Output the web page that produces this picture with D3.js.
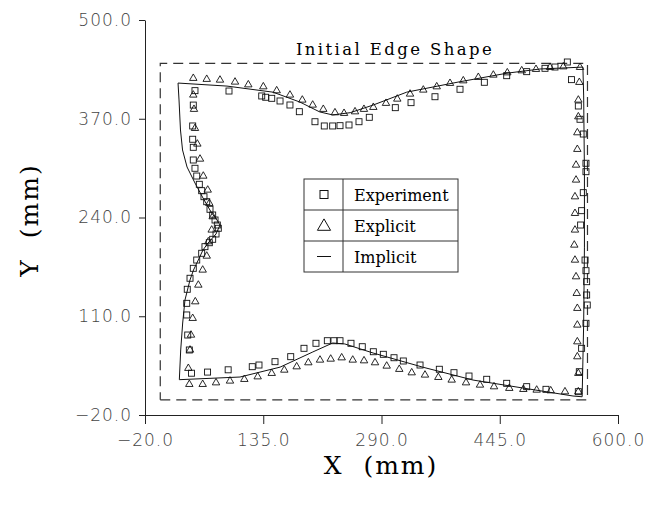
<!DOCTYPE html>
<html>
<head>
<meta charset="utf-8">
<script src="https://cdn.jsdelivr.net/npm/d3@7"></script>
<style>
  body { margin: 0; background: #fff; }
  svg { display: block; }
</style>
</head>
<body>
<div id="chart"></div>
<script>
// axis ticks
const xTicks = [-20, 135, 290, 445, 600];
const yTicks = [-20, 110, 240, 370, 500];

// initial edge shape (dashed)
const initX = [0, 560, 560, 0, 0];
const initY = [0, 0, 443, 443, 0];

// Experiment (squares)
const expX = [45.5, 43.3, 42.5, 42.5, 43.3, 43.3, 45.5, 47.8, 51.2, 54.3, 57.3, 60.9, 65.2, 68.7, 71.8, 74.8, 76.1, 73.1, 68.7, 64.3, 58.6, 54.3, 47.8, 43.3, 39, 35.4, 34.7, 34.7, 36, 38.1,
  41, 62, 89, 120.6, 129.4, 150.4, 171, 188.4, 204.1, 219, 227.7, 235.6, 250, 264.8, 279.3, 292.4, 306.4, 318.6, 340.5, 365.8, 385, 404.7, 427.9, 454.1, 480.3, 505.6, 548,
  549.3, 552.3, 558, 559.7, 558.9, 558.9, 558, 556.8, 551, 552.3, 554.5, 558, 558, 554.5, 550.2, 548, 539,
  533.6, 517.4, 504.3, 480.3, 454.1, 424.8, 392.9, 360.1, 328.7, 308.1, 274, 260.5, 247.4, 235.6, 226, 215, 202.8, 182.3, 170, 157, 146.1, 138.2, 133, 90.1];
const expY = [407, 388, 360.5, 343, 332.4, 315.7, 304.8, 294.6, 283.7, 275.3, 267.4, 260.8, 250.8, 243.3, 236.7, 230.1, 225.8, 218.3, 211.3, 206.8, 201.6, 192.9, 184, 173.1, 160, 145.5, 127, 111.7, 85.3, 65.6,
  35, 36.5, 39.5, 43.6, 45.8, 50.2, 56.8, 67.8, 74.4, 77.8, 77.8, 77.8, 74.4, 69.9, 63.3, 59.9, 55.4, 51.1, 45.8, 40.2, 35.7, 31.3, 27, 21.7, 17.3, 13.8, 10.7,
  37, 67.8, 100.7, 124.8, 138, 155.5, 170, 184, 230.1, 249, 272.7, 300.3, 311.4, 349.9, 369.3, 386.8, 421.5,
  444.7, 438.1, 436.4, 432, 426.7, 418, 408.8, 399, 391.2, 384.6, 371.9, 366.1, 361.8, 360.9, 360.5, 360.5, 366.1, 379.3, 388.1, 393.4, 396.9, 398.3, 400, 406.5];

// Explicit (triangles)
const explX = [43.3, 60.9, 78.3, 98, 115.4, 135.1, 152.6, 170, 186.2, 199.8, 213.7, 229, 240.9, 255.3, 267, 279.3, 295.9, 310.7, 327.4, 344.8, 362.4, 379.8, 397.2, 416.9, 436.6, 454.9, 473.8, 492.5, 510.9, 528.3, 550.2,
  549.3, 548, 548, 546.7, 546.7, 545, 545, 543.6, 543.6, 543.6, 542.7, 543.6, 545, 545.9, 546.7, 546.7, 546.7, 546.7, 548, 548,
  530.5, 511.8, 493.4, 475.9, 457.5, 437.5, 419.1, 400.8, 382, 364.5, 347, 329.6, 313.3, 296.8, 281.5, 267.1, 252.3, 237.8, 223.4, 209.4, 194.1, 178.8, 162.6, 146.1, 127.7, 110.2, 91.4, 73.1, 55.6, 38.1,
  36.8, 39, 40.3, 42.5, 45.9, 49.9, 55.6, 60.9, 63, 67.4, 68.7, 64.3, 62.2, 56.4, 52.1, 48.6, 45.5, 44.2, 43.3];
const explY = [423.3, 422, 421, 418.4, 414.8, 412.2, 407, 401.3, 394.7, 388.1, 382.5, 378, 377.2, 379.3, 382.5, 385.1, 390.4, 396, 402.6, 407.9, 412.2, 416.7, 420.1, 424.6, 427.6, 430.6, 433.3, 435.1, 437.7, 438.5, 437.7,
  418, 394.7, 372.7, 351.7, 329.8, 309.1, 289.4, 267.4, 245.5, 223.6, 203.8, 184, 162.1, 140.2, 120.5, 98.5, 76.5, 56.8, 34.9, 10.7,
  10.7, 12, 12.9, 13.8, 15.2, 17.3, 19.5, 22.5, 26.1, 29.6, 32.7, 35.7, 40.2, 44.5, 48.9, 51.5, 52.4, 55.4, 53.7, 52.4, 48.9, 43.6, 39.2, 34.9, 30.4, 27, 24.8, 22.5, 20.4, 20.4,
  41.5, 65.6, 85.3, 107.3, 129.2, 151.1, 170.9, 189.3, 208.2, 223.6, 241.1, 258.7, 276.2, 294.6, 317, 336.8, 357.4, 382.5, 401.3];

// Implicit (solid line, closed outline)
const implX = [23.3, 87.5, 147.8, 183, 209, 226, 249, 279, 323, 389, 454.5, 498, 554,
  555, 556, 556, 555, 553,
  541, 475.5, 410, 344, 279, 242, 226, 200, 157, 104.5, 25,
  26.8, 29.4, 32.4, 39, 43.6, 49.9, 56, 62.6, 73.1, 78.3, 74.4, 67.4, 56, 45.5, 35.1, 29.2, 26.5, 24.6, 23.3];
const implY = [417, 413, 405, 392, 379, 375, 378, 388, 405, 418, 430, 435.5, 438,
  400, 300, 200, 100, 4,
  5, 15.5, 26, 43, 61.6, 73.5, 74.8, 63, 43, 30, 26.5,
  65.6, 101.1, 131.4, 157.8, 170.9, 184.1, 197.2, 206.4, 218.3, 230.1, 236.7, 245.9, 265.7, 285.4, 306.5, 328.9, 355.2, 394.7, 417];

const legendLabels = ["Experiment", "Explicit", "Implicit"];

const width = 657, height = 508;

const svg = d3.select("#chart")
  .append("svg")
    .attr("width", width)
    .attr("height", height);

const x = d3.scaleLinear().domain([-20, 600]).range([145, 618]);
const y = d3.scaleLinear().domain([-20, 500]).range([415, 20]);

const fmt = d3.format(".1f");

// axes
const xAxis = svg.append("g")
    .attr("transform", "translate(0,415)")
    .call(d3.axisBottom(x).tickValues(xTicks).tickFormat(fmt).tickSize(9).tickSizeOuter(0).tickPadding(10));
const yAxis = svg.append("g")
    .attr("transform", "translate(145,0)")
    .call(d3.axisLeft(y).tickValues(yTicks).tickFormat(fmt).tickSize(6).tickSizeOuter(0).tickPadding(7));

[xAxis, yAxis].forEach(g => {
  g.select(".domain").attr("stroke", "#222").attr("stroke-width", 1);
  g.selectAll(".tick line").attr("stroke", "#222");
  g.selectAll(".tick text")
    .attr("fill", "#444")
    .style("font-family", "'DejaVu Sans', sans-serif")
    .style("font-size", "17px")
    .style("font-weight", 300)
    .style("letter-spacing", "1px");
});

// axis titles
svg.append("text")
    .attr("x", 381).attr("y", 474)
    .attr("text-anchor", "middle")
    .style("font-family", "'DejaVu Serif', serif")
    .style("font-size", "25px")
    .style("letter-spacing", "2px")
    .style("white-space", "pre")
    .text("X  (mm)");
svg.append("text")
    .attr("transform", "translate(38,220) rotate(-90)")
    .attr("text-anchor", "middle")
    .style("font-family", "'DejaVu Serif', serif")
    .style("font-size", "25px")
    .style("letter-spacing", "2px")
    .style("white-space", "pre")
    .text("Y  (mm)");

// title
svg.append("text")
    .attr("x", 395).attr("y", 55)
    .attr("text-anchor", "middle")
    .style("font-family", "'DejaVu Serif', serif")
    .style("font-size", "16.5px")
    .style("letter-spacing", "2.4px")
    .style("white-space", "pre")
    .text("Initial Edge Shape");

// initial shape dashed
const initPts = initX.map((d, i) => [d, initY[i]]);
svg.append("path")
    .datum(initPts)
    .attr("fill", "none")
    .attr("stroke", "#333")
    .attr("stroke-width", 1.2)
    .attr("stroke-dasharray", "10,6")
    .attr("d", d3.line().x(d => x(d[0])).y(d => y(d[1])));

// implicit line
const implPts = implX.map((d, i) => [d, implY[i]]);
svg.append("path")
    .datum(implPts)
    .attr("fill", "none")
    .attr("stroke", "#111")
    .attr("stroke-width", 1)
    .attr("d", d3.line().x(d => x(d[0])).y(d => y(d[1])));

// experiment squares
const expPts = expX.map((d, i) => [d, expY[i]]);
svg.append("g").selectAll("rect")
    .data(expPts)
    .join("rect")
      .attr("x", d => x(d[0]) - 3)
      .attr("y", d => y(d[1]) - 3)
      .attr("width", 6)
      .attr("height", 6)
      .attr("fill", "none")
      .attr("stroke", "#111")
      .attr("stroke-width", 0.9);

// explicit triangles
const tri = d3.symbol().type(d3.symbolTriangle).size(24);
const explPts = explX.map((d, i) => [d, explY[i]]);
svg.append("g").selectAll("path")
    .data(explPts)
    .join("path")
      .attr("transform", d => `translate(${x(d[0])},${y(d[1])})`)
      .attr("d", tri)
      .attr("fill", "none")
      .attr("stroke", "#111")
      .attr("stroke-width", 0.9);

// legend
const lg = svg.append("g");
const lx0 = 304, lx1 = 343, lx2 = 458, ly0 = 179, rowH = 31;
lg.append("rect")
    .attr("x", lx0).attr("y", ly0)
    .attr("width", lx2 - lx0).attr("height", rowH * 3)
    .attr("fill", "#fff")
    .attr("stroke", "#333");
lg.append("line")
    .attr("x1", lx1).attr("x2", lx1).attr("y1", ly0).attr("y2", ly0 + rowH * 3)
    .attr("stroke", "#333");
[1, 2].forEach(i => {
  lg.append("line")
    .attr("x1", lx0).attr("x2", lx2)
    .attr("y1", ly0 + rowH * i).attr("y2", ly0 + rowH * i)
    .attr("stroke", "#333");
});
legendLabels.forEach((t, i) => {
  lg.append("text")
    .attr("x", 354).attr("y", ly0 + rowH * i + 22)
    .style("font-family", "'DejaVu Serif', serif")
    .style("font-size", "16px")
    .text(t);
});
const cx = 324;
lg.append("rect")
    .attr("x", cx - 4).attr("y", ly0 + rowH / 2 - 4)
    .attr("width", 8).attr("height", 8)
    .attr("fill", "none").attr("stroke", "#111");
lg.append("path")
    .attr("transform", `translate(${cx},${ly0 + rowH * 1.5 + 1})`)
    .attr("d", d3.symbol().type(d3.symbolTriangle).size(75))
    .attr("fill", "none").attr("stroke", "#111");
lg.append("line")
    .attr("x1", cx - 7).attr("x2", cx + 7)
    .attr("y1", ly0 + rowH * 2.5).attr("y2", ly0 + rowH * 2.5)
    .attr("stroke", "#111");
</script>
</body>
</html>
